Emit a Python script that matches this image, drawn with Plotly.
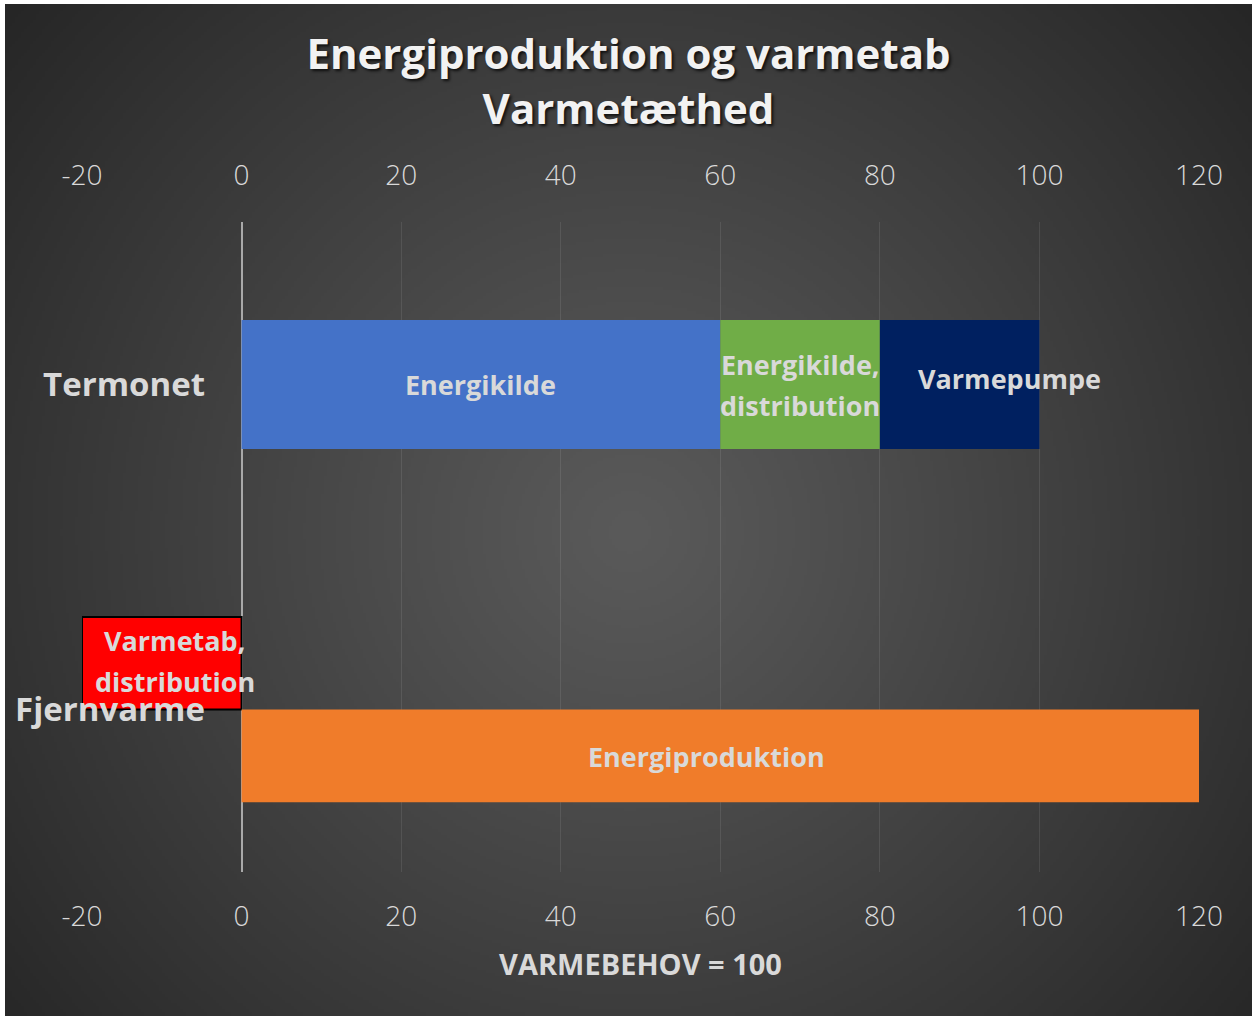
import base64, struct, zlib
import numpy as np
import plotly.graph_objects as go

# ---------------- data ----------------
categories = ["Fjernvarme", "Termonet"]
termonet_labels = ["Energikilde", "Energikilde, distribution", "Varmepumpe"]
termonet_values = [60, 20, 20]
fjern_loss_label = "Varmetab, distribution"
fjern_loss_value = [-20]
fjern_prod_label = "Energiproduktion"
fjern_prod_value = [120]
x_ticks = [-20, 0, 20, 40, 60, 80, 100, 120]
x_tick_text = ["-20", "0", "20", "40", "60", "80", "100", "120"]
title_lines = ["Energiproduktion og varmetab", "Varmetæthed"]
x_title = "VARMEBEHOV = 100"

# ---------------- figure geometry ----------------
W, H = 1252, 1016
L, R, T, B = 82, 53, 222, 144
pw, ph = W - L - R, H - T - B

FONT = "Open Sans"
LABEL_COL = "#d9d9d9"


def radial_png(w, h):
    yy, xx = np.mgrid[0:h, 0:w].astype(float)
    cx, cy = w * 0.5, h * 0.52
    d = np.sqrt((xx - cx) ** 2 + (yy - cy) ** 2) / np.sqrt(cx ** 2 + cy ** 2)
    v = 90 - 52 * np.clip(d, 0, 1) ** 1.1
    img = np.clip(v, 0, 255).astype(np.uint8)
    rgb = np.stack([img, img, img], axis=-1)
    raw = b"".join(b"\x00" + rgb[i].tobytes() for i in range(h))

    def chunk(tag, data):
        c = struct.pack(">I", len(data)) + tag + data
        return c + struct.pack(">I", zlib.crc32(tag + data) & 0xFFFFFFFF)

    png = b"\x89PNG\r\n\x1a\n"
    png += chunk(b"IHDR", struct.pack(">IIBBBBB", w, h, 8, 2, 0, 0, 0))
    png += chunk(b"IDAT", zlib.compress(raw, 9))
    png += chunk(b"IEND", b"")
    return "data:image/png;base64," + base64.b64encode(png).decode()


bg = radial_png(416, 338)

seg_colors = ["#4472c8", "#70ad47", "#002060"]
term_w = 0.397
fj_w = 0.285

fig = go.Figure()

bases = np.concatenate([[0], np.cumsum(termonet_values)[:-1]])
for lab, val, b0, col in zip(termonet_labels, termonet_values, bases, seg_colors):
    fig.add_trace(go.Bar(
        y=["Termonet"], x=[val], base=[b0], orientation="h", name=lab,
        width=term_w, marker=dict(color=col, line=dict(width=0)),
        hoverinfo="name+x",
    ))

fig.add_trace(go.Bar(
    y=["Fjernvarme"], x=fjern_loss_value, orientation="h", name=fjern_loss_label,
    width=fj_w, offset=0.0,
    marker=dict(color="#ff0000", line=dict(width=2, color="#000000")),
))
fig.add_trace(go.Bar(
    y=["Fjernvarme"], x=fjern_prod_value, orientation="h", name=fjern_prod_label,
    width=fj_w, offset=-fj_w,
    marker=dict(color="#f07c2a", line=dict(width=0)),
))
# invisible trace to activate the top axis
fig.add_trace(go.Scatter(x=[x_ticks[0], x_ticks[-1]], y=["Termonet", "Termonet"],
                         xaxis="x2", mode="markers", marker=dict(opacity=0),
                         showlegend=False, hoverinfo="skip"))

# ---------------- bar labels ----------------
ann = []
lab_font = dict(family=FONT, size=27, color=LABEL_COL, weight="bold")


def add_label(text, x, y, xshift=0, yshift=0):
    ann.append(dict(text=text, x=x, y=y, xref="x", yref="y", showarrow=False,
                    xshift=xshift, yshift=yshift, font=lab_font,
                    xanchor="center", yanchor="middle"))


centers = bases + np.array(termonet_values) / 2
add_label(termonet_labels[0], centers[0], "Termonet", yshift=0)
l1, l2 = termonet_labels[1].split(" ")
add_label(l1, centers[1], "Termonet", yshift=20.5)
add_label(l2, centers[1], "Termonet", yshift=-20.5)
add_label(termonet_labels[2], centers[2], "Termonet", xshift=50, yshift=6)

m1, m2 = fjern_loss_label.split(" ")
add_label(m1, fjern_loss_value[0] / 2, "Fjernvarme", xshift=13, yshift=69)
add_label(m2, fjern_loss_value[0] / 2, "Fjernvarme", xshift=13, yshift=28)
add_label(fjern_prod_label, fjern_prod_value[0] / 2, "Fjernvarme", xshift=-14, yshift=-47)

tick_font = dict(family=FONT, size=28, color=LABEL_COL, weight=300)

fig.update_layout(
    width=W, height=H,
    margin=dict(l=L, r=R, t=T, b=B, pad=0),
    paper_bgcolor="#ffffff",
    plot_bgcolor="rgba(0,0,0,0)",
    barmode="overlay",
    showlegend=False,
    title=dict(
        text="<br>".join(title_lines),
        x=628.5 / W, xref="container", xanchor="center",
        y=1 - 69 / H, yref="container", yanchor="top",
        font=dict(family=FONT, size=42, color="#f2f2f2", weight="bold",
                  shadow="2px 2px 3px rgba(0,0,0,0.75)"),
    ),
    xaxis=dict(
        range=[x_ticks[0], x_ticks[-1]], tickvals=x_ticks, ticktext=x_tick_text,
        showgrid=True, gridcolor="rgba(255,255,255,0.09)", gridwidth=1,
        zeroline=True, zerolinecolor="#a9a9a9", zerolinewidth=2,
        showline=False, ticks="", tickfont=tick_font,
        ticklabelstandoff=25,
        title=dict(text=x_title, standoff=21,
                   font=dict(family=FONT, size=29, color=LABEL_COL, weight="bold")),
        fixedrange=True,
    ),
    xaxis2=dict(
        overlaying="x", side="top", matches="x", range=[x_ticks[0], x_ticks[-1]],
        tickvals=x_ticks, ticktext=x_tick_text, showgrid=False, zeroline=False,
        showline=False, ticks="", tickfont=tick_font, ticklabelstandoff=30,
    ),
    yaxis=dict(
        type="category", categoryorder="array", categoryarray=categories,
        range=[-0.5, 1.5], showgrid=False, zeroline=False, showline=False,
        ticks="", anchor="free", position=(205 - L) / pw,
        tickfont=dict(family=FONT, size=33, color=LABEL_COL, weight="bold"),
        fixedrange=True,
    ),
    annotations=ann,
    images=[dict(
        source=bg, xref="paper", yref="paper",
        x=(5 - L) / pw, y=(H - B - 4) / ph,
        sizex=(W - 5) / pw, sizey=(H - 4) / ph,
        xanchor="left", yanchor="top", sizing="stretch", layer="below",
    )],
)

fig.write_html(
    "out.html",
    config={"displayModeBar": False},
    post_script="document.body.style.margin='0';document.body.style.overflow='hidden';",
)
